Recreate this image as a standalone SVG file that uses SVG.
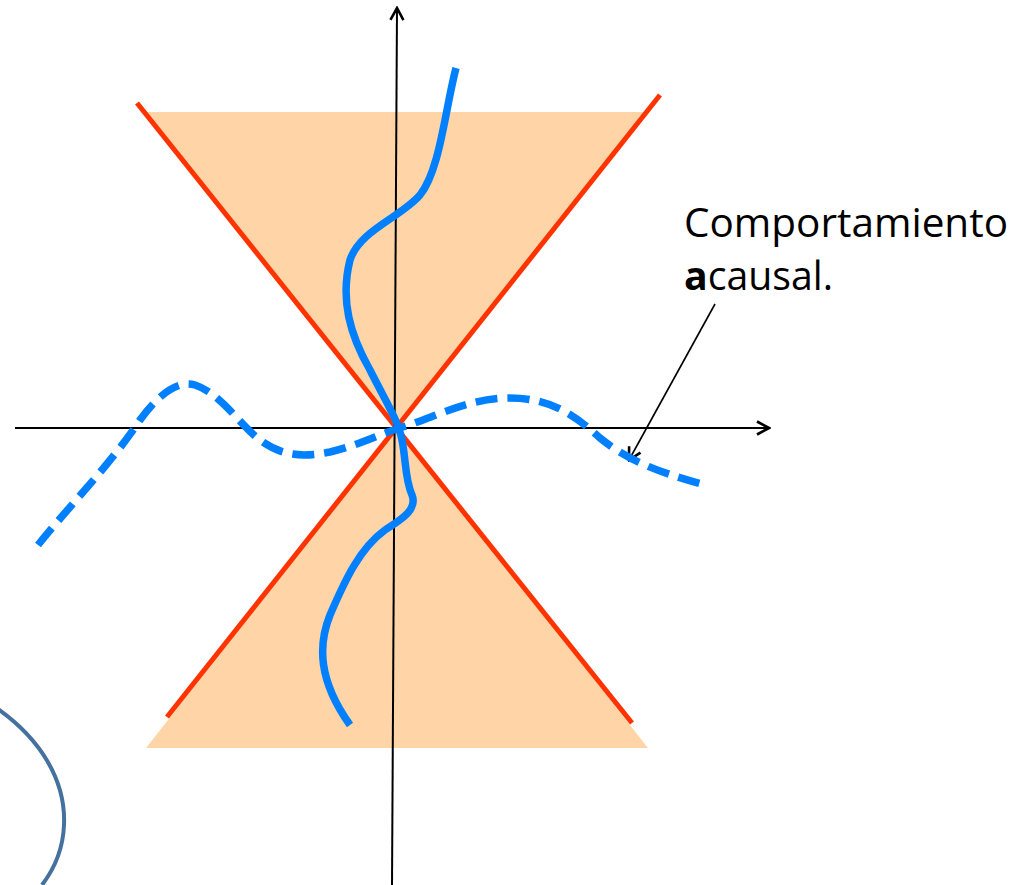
<svg xmlns="http://www.w3.org/2000/svg" width="1034" height="885" viewBox="0 0 1034 885">
<defs>
<style>
.fill{fill:#FFD5A8;stroke:none}
.red{stroke:#FF3300;stroke-width:5;fill:none}
.axis{stroke:#000;stroke-width:2;fill:none}
.blue{stroke:#0080FF;stroke-width:7.5;fill:none;stroke-linecap:butt}
.dash{stroke-dasharray:22 10}
.lbl{font-family:"Open Sans","Liberation Sans",sans-serif;font-size:40px;fill:#000}
</style>
<marker id="arr" viewBox="0 0 16 16" refX="14" refY="8" markerWidth="16" markerHeight="16" markerUnits="userSpaceOnUse" orient="auto">
<path d="M2,1.5 L14,8 L2,14.5" fill="none" stroke="#000" stroke-width="2.6"/>
</marker>
</defs>
<rect width="1034" height="885" fill="#fff"/>
<g id="cone">
<polygon class="fill" points="146,112 648,112 397,428"/>
<polygon class="fill" points="146,748 648,748 397,428"/>
<line class="red" x1="137" y1="103" x2="632" y2="723"/>
<line class="red" x1="660" y1="95" x2="167" y2="717"/>
</g>
<g id="connectors">
<line class="axis" x1="392" y1="885" x2="397" y2="8" marker-end="url(#arr)"/>
<line class="axis" x1="15" y1="428" x2="769" y2="428" marker-end="url(#arr)"/>
<line x1="715" y1="304" x2="629" y2="460" stroke="#000" stroke-width="1.6" marker-end="url(#arr)"/>
</g>
<g id="worldline-causal">
<path class="blue" d="M456,68 C445,110 440,170 420,195 C400,218 360,230 350,260 C340,300 350,335 370,370 C385,400 398,420 402,440 C406,460 405,480 412,495 C418,510 400,520 385,530 C360,548 345,580 330,615 C318,645 318,680 350,725"/>
</g>
<g id="worldline-acausal">
<path class="blue dash" d="M38,545 C70,505 110,465 140,420 C160,392 180,380 195,385 C220,393 240,425 260,440 C280,455 300,458 330,452 C360,445 385,432 400,428 C440,415 470,398 510,398 C550,398 575,415 600,438 C625,458 650,470 705,485"/>
</g>
<g id="label">
<text class="lbl" x="684" y="237" textLength="324" lengthAdjust="spacingAndGlyphs">Comportamiento</text>
<text class="lbl" x="684" y="290" textLength="149" lengthAdjust="spacingAndGlyphs"><tspan font-weight="bold">a</tspan>causal.</text>
</g>
<g id="ellipse">
<path d="M-5,707 C40,738 66,780 64,825 C63,850 55,868 42,885" fill="none" stroke="#45719F" stroke-width="4"/>
</g>
</svg>
